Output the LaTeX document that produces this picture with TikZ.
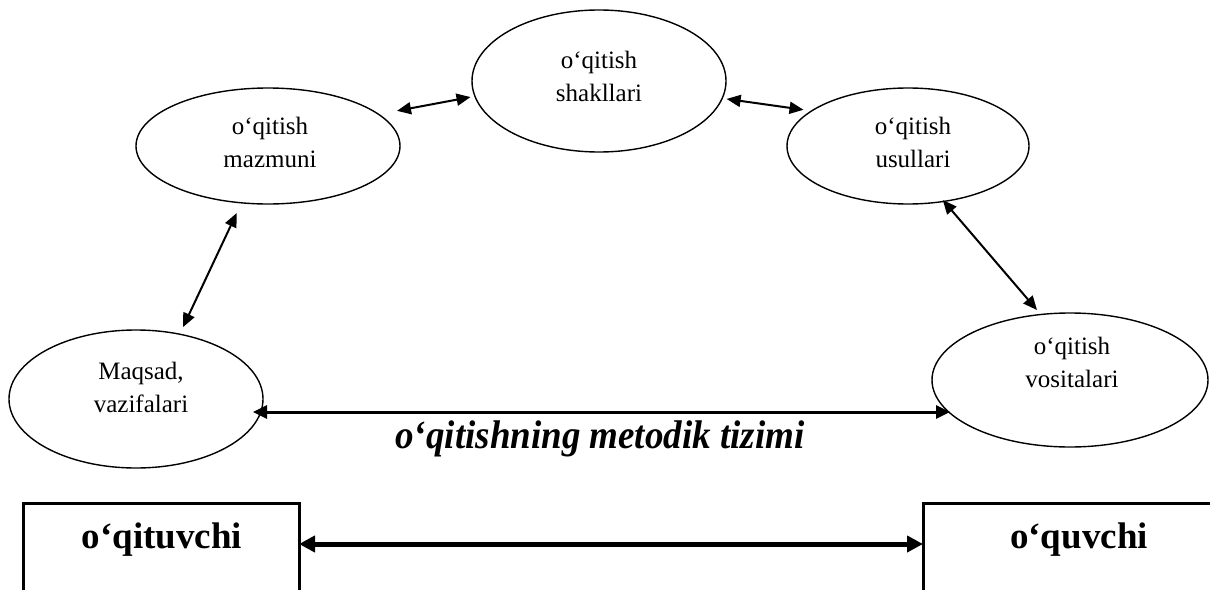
\documentclass[tikz,border=0pt]{standalone}
\usepackage{fontspec}
\setmainfont{Liberation Serif}
\usetikzlibrary{arrows.meta,shapes.geometric}
\begin{document}
\begin{tikzpicture}[x=1pt,y=-1pt,
  oval/.style={draw, ellipse, line width=1.4pt, inner sep=0pt, outer sep=0pt},
  ovaltext/.style={font=\fontsize{25}{32.5}\selectfont, align=center, anchor=base, inner sep=0pt},
  link/.style={line width=2pt, {Triangle[length=14pt,width=12pt]}-{Triangle[length=14pt,width=12pt]}},
  mainlink/.style={line width=3pt, {Triangle[length=14pt,width=13pt]}-{Triangle[length=14pt,width=13pt]}},
  boldlink/.style={line width=5pt, {Triangle[length=16pt,width=16pt]}-{Triangle[length=16pt,width=16pt]}},
  party/.style={draw, rectangle, line width=3pt, inner sep=0pt, outer sep=0pt, anchor=north west, minimum height=200pt},
  partytext/.style={font=\fontsize{37}{40}\selectfont\bfseries, anchor=base, inner sep=0pt},
  title/.style={font=\fontsize{40}{44}\selectfont\bfseries\itshape, xscale=0.925, anchor=base, inner sep=0pt}]
\path[use as bounding box] (0,0) rectangle (1210,589);

% the five components of the system
\node[oval, minimum width=254pt, minimum height=142pt] (shak) at (599,81) {};
\node[oval, minimum width=264pt, minimum height=116pt] (maz) at (268,146) {};
\node[oval, minimum width=242pt, minimum height=116pt] (usul) at (908,146) {};
\node[oval, minimum width=254pt, minimum height=138pt] (maq) at (136,399) {};
\node[oval, minimum width=276pt, minimum height=134pt] (vos) at (1070,380) {};

% labels: the base anchor sits on the second line
\node[ovaltext] (shakt) at (599,101) {o‘qitish\\shakllari};
\node[ovaltext] (mazt) at (270,167) {o‘qitish\\mazmuni};
\node[ovaltext] (usult) at (913,167) {o‘qitish\\usullari};
\node[ovaltext] (maqt) at (141,412) {Maqsad,\\vazifalari};
\node[ovaltext] (vost) at (1072,387) {o‘qitish\\vositalari};

% links between the components
\draw[link, shorten <=18.8pt, shorten >=4.5pt] (maz.16) -- (shak.187.5);
\draw[link, shorten <=4.5pt, shorten >=8.2pt] (shak.352.5) -- (usul.160.3);
\draw[link, shorten <=11.3pt, shorten >=7.8pt] (maz.245.3) -- (maq.56.8);
\draw[link, shorten <=-1.8pt, shorten >=5.9pt] (usul.303.2) -- (vos.114);
\coordinate (axis) at (600,412);
\draw[mainlink, shorten <=-10pt, shorten >=-18pt] (maq.east |- axis) -- (vos.west |- axis);

\node[title] (sys) at (600,448) {o‘qitishning metodik tizimi};

% teacher and pupil
\node[party, minimum width=276pt] (teacher) at (23,503) {};
\node[party, minimum width=400pt] (pupil) at (923,503) {};
\node[partytext] (teachert) at (162,548) {o‘qituvchi};
\node[partytext] (pupilt) at (1079,548) {o‘quvchi};
\coordinate (level) at (600,544);
\draw[boldlink] (teacher.east |- level) -- (pupil.west |- level);
\end{tikzpicture}
\end{document}
